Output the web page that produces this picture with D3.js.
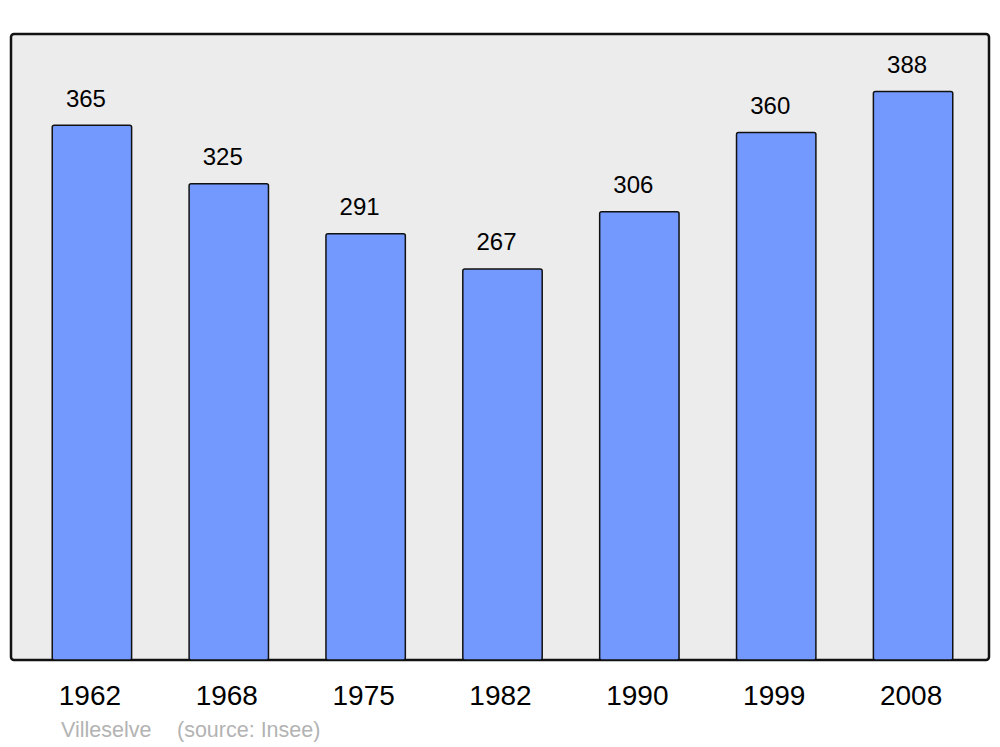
<!DOCTYPE html>
<html>
<head>
<meta charset="utf-8">
<script src="https://cdn.jsdelivr.net/npm/d3@7"></script>
<style>
body { margin: 0; background: #fff; }
text { font-family: "Liberation Sans", Arial, sans-serif; }
</style>
</head>
<body>
<div id="root"></div>
<script>
var years = ['1962', '1968', '1975', '1982', '1990', '1999', '2008'];
var population = [365, 325, 291, 267, 306, 360, 388];
var commune = 'Villeselve';
var source = '(source: Insee)';

var width = 1000;
var height = 747;
var panel = { left: 11, top: 34, right: 989, bottom: 660 };

var svg = d3.select('#root')
    .append('svg')
    .attr('width', width).attr('height', height);

svg.append('rect')
    .attr('x', panel.left).attr('y', panel.top)
    .attr('width', panel.right - panel.left)
    .attr('height', panel.bottom - panel.top)
    .attr('rx', 3)
    .attr('fill', '#ececec')
    .attr('stroke', '#111')
    .attr('stroke-width', 2.5);

var xScale = d3.scaleBand()
    .domain(years)
    .range([23.5, 981.5])
    .paddingInner(0.42)
    .paddingOuter(0.21);

var yScale = d3.scaleLinear()
    .domain([0, d3.max(population) * 1.1])
    .range([panel.bottom, panel.top]);

svg.selectAll('.bar')
    .data(population).enter()
    .append('rect')
    .attr('class', 'bar')
    .attr('x', function (d, i) { return xScale(years[i]); })
    .attr('y', function (d) { return yScale(d) + 0.5; })
    .attr('width', xScale.bandwidth())
    .attr('height', function (d) { return panel.bottom - yScale(d) - 0.5; })
    .attr('rx', 2)
    .attr('fill', '#7399ff')
    .attr('stroke', '#111')
    .attr('stroke-width', 1.5);

svg.selectAll('.val')
    .data(population).enter()
    .append('text')
    .attr('class', 'val')
    .attr('x', function (d, i) { return xScale(years[i]) + xScale.bandwidth() / 2 - 6; })
    .attr('y', function (d) { return yScale(d) - 18; })
    .attr('text-anchor', 'middle')
    .attr('font-size', 24)
    .attr('fill', '#000')
    .text(function (d) { return d; });

svg.selectAll('.yr')
    .data(years).enter()
    .append('text')
    .attr('class', 'yr')
    .attr('x', function (d) { return xScale(d) + xScale.bandwidth() / 2 - 2; })
    .attr('y', 705)
    .attr('text-anchor', 'middle')
    .attr('font-size', 28)
    .attr('fill', '#000')
    .text(function (d) { return d; });

svg.append('text')
    .attr('x', 61).attr('y', 737)
    .attr('font-size', 21.5)
    .attr('fill', '#b3b3b3')
    .text(commune);

svg.append('text')
    .attr('x', 177).attr('y', 737)
    .attr('font-size', 21.5)
    .attr('fill', '#b3b3b3')
    .text(source);
</script>
</body>
</html>
